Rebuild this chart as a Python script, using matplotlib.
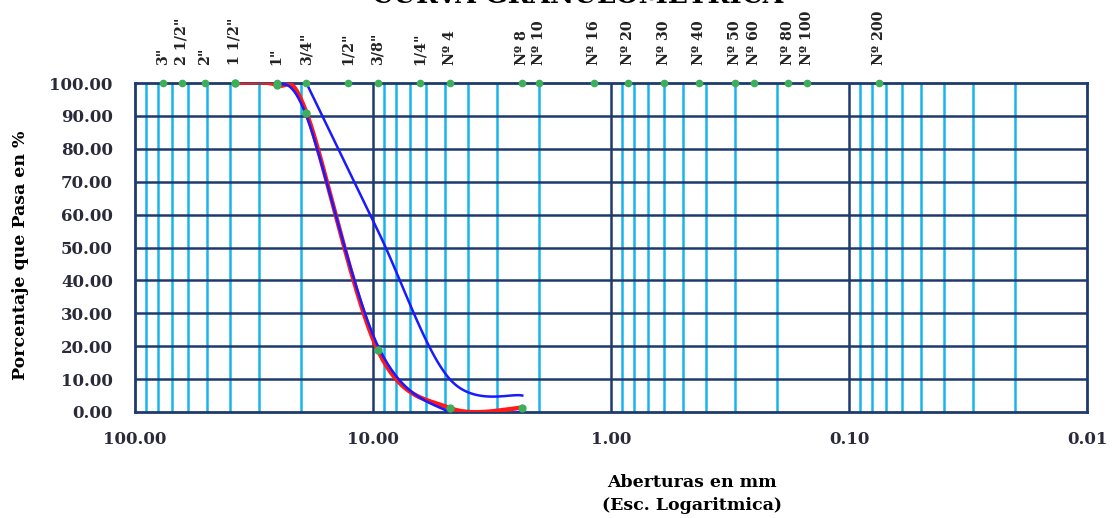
import matplotlib
matplotlib.use("Agg")
import matplotlib.pyplot as plt
import numpy as np

# Sieve openings (mm) and their names
sieve_names = ['3"', '2 1/2"', '2"', '1 1/2"', '1"', '3/4"', '1/2"', '3/8"', '1/4"',
               'Nº 4', 'Nº 8', 'Nº 10', 'Nº 16', 'Nº 20', 'Nº 30', 'Nº 40',
               'Nº 50', 'Nº 60', 'Nº 80', 'Nº 100', 'Nº 200']
sieve_mm = [76.2, 63.5, 50.8, 38.1, 25.4, 19.05, 12.7, 9.525, 6.35,
            4.76, 2.36, 2.0, 1.18, 0.85, 0.6, 0.425,
            0.3, 0.25, 0.18, 0.15, 0.075]

# Sample curve (% passing)
sample_mm = [38.1, 25.4, 19.05, 9.525, 4.76, 2.36]
sample_pass = [100.0, 99.4, 91.0, 18.7, 1.2, 1.3]

# Specification limits
lower_mm = [25.4, 19.05, 9.525, 4.76, 2.36]
lower_pass = [100.0, 90.0, 20.0, 0.0, 0.0]
upper_mm = [19.05, 9.525, 4.76, 2.36]
upper_pass = [100.0, 55.0, 10.0, 5.0]

NAVY = "#1f3a6e"
LBLUE = "#18b4ee"
GREEN = "#3dae5a"
SERIF = ["DejaVu Serif"]


def smooth(xs, ys, n=40):
    # Catmull-Rom through the points in (log x, y) space, like Excel's smoothed line
    lx = np.log10(np.asarray(xs, float))
    y = np.asarray(ys, float)
    px = np.concatenate([[lx[0]], lx, [lx[-1]]])
    py = np.concatenate([[y[0]], y, [y[-1]]])
    outx, outy = [], []
    t = np.linspace(0, 1, n)
    for i in range(1, len(px) - 2):
        for p, out in ((px, outx), (py, outy)):
            p0, p1, p2, p3 = p[i - 1], p[i], p[i + 1], p[i + 2]
            m1 = (p2 - p0) / 2
            m2 = (p3 - p1) / 2
            h00 = 2 * t**3 - 3 * t**2 + 1
            h10 = t**3 - 2 * t**2 + t
            h01 = -2 * t**3 + 3 * t**2
            h11 = t**3 - t**2
            out.extend(h00 * p1 + h10 * m1 + h01 * p2 + h11 * m2)
    return 10 ** np.array(outx), np.array(outy)


fig = plt.figure(figsize=(11.12, 5.18), dpi=100)
ax = fig.add_axes([135 / 1112, 1 - 412 / 518, 952 / 1112, 329 / 518])

ax.set_xscale("log")
ax.set_xlim(100, 0.01)
ax.set_ylim(0, 100)

# grid
for dec in [0.01, 0.1, 1, 10]:
    for k in range(2, 10):
        ax.axvline(dec * k, color=LBLUE, lw=1.8, zorder=1)
for v in [0.1, 1, 10]:
    ax.axvline(v, color=NAVY, lw=1.8, zorder=1.5)
for v in range(10, 100, 10):
    ax.axhline(v, color=NAVY, lw=1.8, zorder=1.5)
for s in ax.spines.values():
    s.set_color(NAVY)
    s.set_linewidth(2)
    s.set_zorder(2)

# curves
xr, yr = smooth(sample_mm, sample_pass)
ax.plot(xr, yr, color="#ff1a1a", lw=3.2, zorder=3)
xl, yl = smooth(lower_mm, lower_pass)
ax.plot(xl, yl, color="#1a1aff", lw=1.8, zorder=4)
xu, yu = smooth(upper_mm, upper_pass)
ax.plot(xu, yu, color="#1a1aff", lw=1.8, zorder=4)
ax.plot(sample_mm, sample_pass, "o", color=GREEN, ms=5, zorder=5, clip_on=False)

# sieve marks on top
ax.plot(sieve_mm, [100] * len(sieve_mm), "o", color=GREEN, ms=4.5, zorder=5, clip_on=False)
for name, d in zip(sieve_names, sieve_mm):
    ax.annotate(name, xy=(d, 100), xytext=(0, 13), textcoords="offset points",
                rotation=90, ha="center", va="bottom", fontsize=10.3,
                family=SERIF, fontweight="bold", color="#222222")

ax.set_xticks([100, 10, 1, 0.1, 0.01])
ax.set_xticklabels(["100.00", "10.00", "1.00", "0.10", "0.01"])
ax.set_yticks(range(0, 101, 10))
ax.set_yticklabels(["%.2f" % v for v in range(0, 101, 10)])
ax.minorticks_off()
ax.tick_params(axis="both", length=0, labelsize=12, colors="#2a2a3a")
ax.tick_params(axis="x", pad=14)
ax.tick_params(axis="y", pad=16)
for lab in ax.get_xticklabels() + ax.get_yticklabels():
    lab.set_family(SERIF)
    lab.set_fontweight("bold")

fig.text(21 / 1112, 1 - 255 / 518, "Porcentaje que Pasa en %", rotation=90,
         ha="center", va="center", fontsize=12.5, family=SERIF, fontweight="bold")
fig.text(692 / 1112, 1 - 494 / 518, "Aberturas en mm\n(Esc. Logaritmica)",
         ha="center", va="center", fontsize=12.5, family=SERIF, fontweight="bold",
         linespacing=1.4)
fig.text(578 / 1112, 1 - 3 / 518, "CURVA GRANULOMETRICA", ha="center",
         va="baseline", fontsize=19, family=SERIF, fontweight="bold")

fig.savefig("out.png", dpi=100)
